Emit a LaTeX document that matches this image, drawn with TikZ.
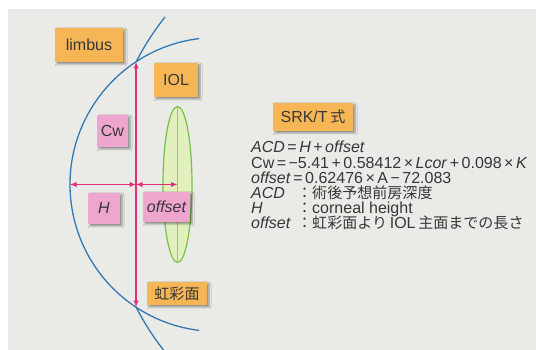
\documentclass[tikz,border=0pt]{standalone}
\usepackage{fontspec}
\setmainfont{Liberation Sans}
\newfontfamily\jpfont[Scale=0.94]{Noto Sans CJK JP}
\usepackage{xcolor}
\usetikzlibrary{shapes,arrows.meta,positioning,shadows.blur,calc}

\definecolor{paper}{RGB}{234,234,231}
\definecolor{tagorange}{RGB}{246,182,86}
\definecolor{tagpink}{RGB}{238,166,206}
\definecolor{dimred}{RGB}{224,48,122}
\definecolor{eyeblue}{RGB}{52,120,182}
\definecolor{lensgreen}{RGB}{122,192,72}
\definecolor{lensfill}{RGB}{226,240,192}
\definecolor{txtgray}{RGB}{55,55,55}

\newcommand{\op}[1]{\hspace{2.5pt}#1\hspace{2.5pt}}

\tikzset{
  orangetag/.style={rectangle, fill=tagorange, text=txtgray, inner sep=2pt,
    minimum height=34pt,
    blur shadow={shadow xshift=2pt, shadow yshift=-2pt, shadow blur radius=2pt}},
  pinktag/.style={orangetag, fill=tagpink},
  eye/.style={eyeblue, line width=1.3pt},
  dimline/.style={dimred, line width=1.2pt, {Latex[length=6.5pt,width=5.5pt]}-{Latex[length=6.5pt,width=5.5pt]}},
  formula/.style={anchor=base west, inner sep=0pt, text=txtgray}
}

\begin{document}
\begin{tikzpicture}[x=1pt, y=1pt, font=\fontsize{16}{16}\selectfont]
\useasboundingbox (0,0) rectangle (536,350);
\fill[white] (0,0) rectangle (536,350);
\fill[paper] (8,0) rectangle (536,341);

% cornea and sclera
\coordinate (cc) at (217,165.5);
\coordinate (sc) at (375.5,165.5);
\coordinate (ltop) at ($(sc)+(152.9:269)$);
\coordinate (lbot) at ($(sc)+(207.1:269)$);
\coordinate (cl) at ($(cc)+(180:147)$);
\coordinate (mid) at (ltop |- cl);

% lens
\node[ellipse, draw=lensgreen, fill=lensfill, line width=1.2pt, inner sep=0pt,
  minimum width=29pt, minimum height=156pt] (iol) at (177.5,165.5) {};
\draw[tagpink!80!dimred, line width=0.8pt] (iol.north) -- (iol.south);

\draw[eye] ($(cc)+(97:147)$) arc[start angle=97, end angle=263, radius=147];
\draw[eye] ($(sc)+(141.5:269)$) arc[start angle=141.5, end angle=152.9, radius=269];
\draw[eye] (lbot) arc[start angle=207.1, end angle=218.5, radius=269];

\draw[dimline] (ltop) -- (lbot);
\draw[dimline] (cl) -- (mid);
\draw[dimline] (mid) -- (iol.center);

% labels
\node[orangetag, minimum width=68pt] (limbus) at (89,305) {limbus};
\node[orangetag, minimum width=44pt] (iollab) at (176,270) {IOL};
\node[orangetag, minimum width=60pt, minimum height=23pt] (iris) at (177,56.5) {\jpfont 虹彩面};
\node[orangetag, minimum width=80pt, minimum height=28pt] (srk) at (313,233) {SRK/T\,{\jpfont 式}};

\node[pinktag, minimum width=31pt, minimum height=32pt] (cw) at (112.5,219) {Cw};
\node[pinktag, minimum width=32pt, minimum height=31pt] (h) at (104,141.5) {\itshape H};
\node[pinktag, minimum width=47pt, minimum height=30pt] (off) at (166.5,143) {\itshape offset};

% SRK/T formula
\node[formula] (l1) at (251,197) {\textit{ACD}\op{=}\textit{H}\op{+}\textit{offset}};
\node[formula] (l2) at (251,181.8) {Cw\op{=}−5.41\op{+}0.58412\op{×}\textit{Lcor}\op{+}0.098\op{×}\textit{K}};
\node[formula] (l3) at (251,166.6) {\textit{offset}\op{=}0.62476\op{×}A\op{−}72.083};
\node[formula] (l4) at (251,151.4) {\makebox[46pt][l]{\textit{ACD}}{\jpfont ：術後予想前房深度}};
\node[formula] (l5) at (251,136.2) {\makebox[46pt][l]{\textit{H}}{\jpfont ：}corneal height};
\node[formula] (l6) at (251,121) {\makebox[46pt][l]{\textit{offset}}{\jpfont ：虹彩面より}\,IOL\,{\jpfont 主面までの長さ}};
\end{tikzpicture}
\end{document}
